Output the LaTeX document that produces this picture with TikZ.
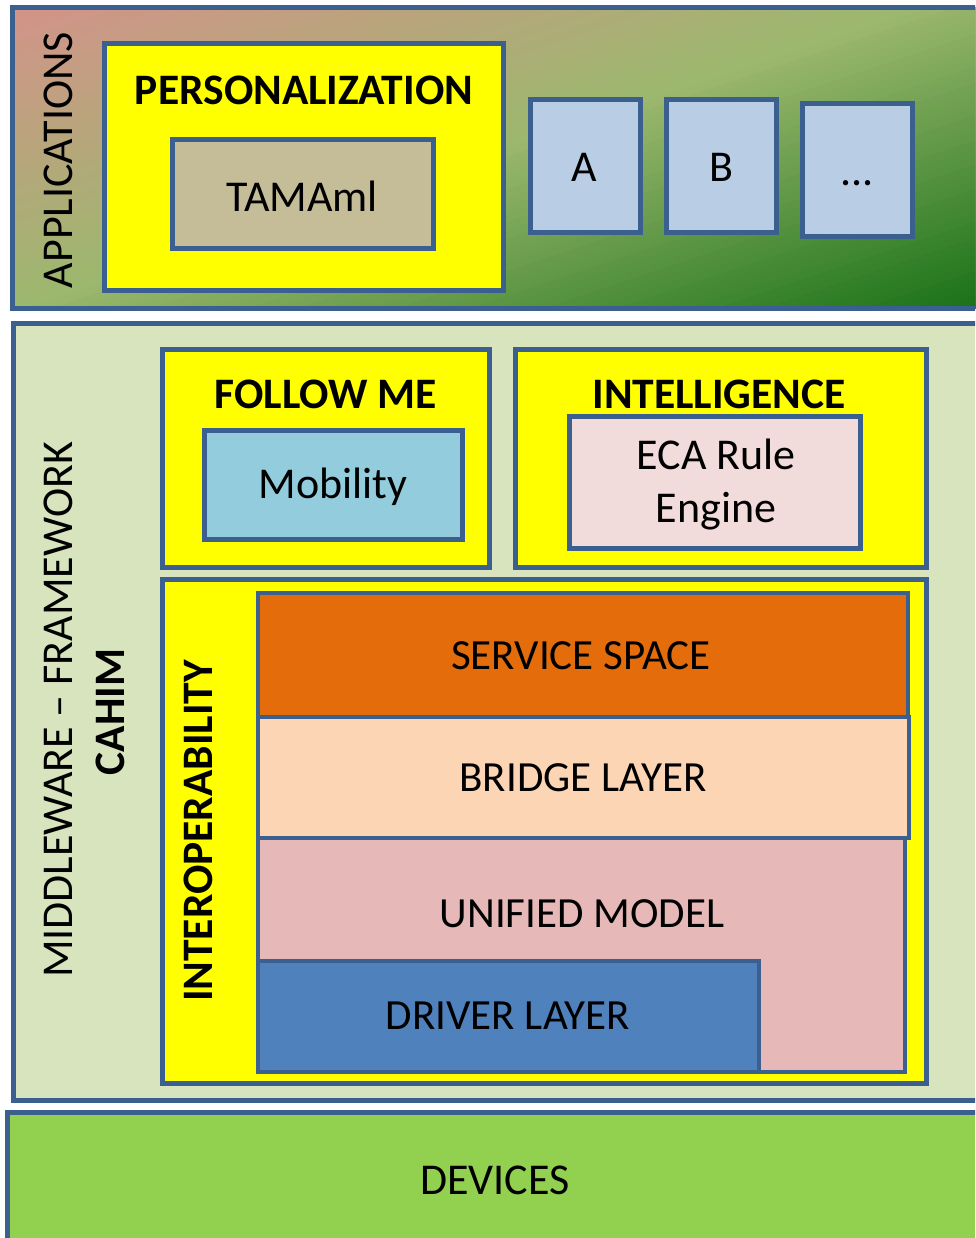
\documentclass[tikz,border=0pt]{standalone}
\usepackage{fontspec}
\setmainfont{Carlito}
\usetikzlibrary{fit}
\definecolor{edge}{RGB}{59,95,142}
\definecolor{yfill}{RGB}{255,255,0}
\definecolor{tanfill}{RGB}{196,189,151}
\definecolor{appfill}{RGB}{185,205,229}
\definecolor{midfill}{RGB}{215,228,189}
\definecolor{mobfill}{RGB}{147,205,221}
\definecolor{ecafill}{RGB}{242,220,219}
\definecolor{svcfill}{RGB}{228,108,10}
\definecolor{brgfill}{RGB}{252,213,181}
\definecolor{unifill}{RGB}{230,185,184}
\definecolor{drvfill}{RGB}{79,129,189}
\definecolor{devfill}{RGB}{146,208,80}
\definecolor{gradA}{RGB}{216,144,140}
\definecolor{gradB}{RGB}{156,184,110}
\definecolor{gradC}{RGB}{22,112,22}
\tikzset{
  box/.style={draw=edge, line width=5pt, inner sep=0pt, rectangle},
  big/.style={font=\fontsize{44}{53}\selectfont, text=black, inner sep=0pt},
  mid/.style={font=\fontsize{43}{52}\selectfont, text=black, inner sep=0pt},
  bigb/.style={font=\fontsize{43.5}{52}\selectfont\bfseries, text=black, inner sep=0pt},
}
\begin{document}
\begin{tikzpicture}[x=1pt, y=-1pt]
\useasboundingbox (0,0) rectangle (975,1238);
\fill[white] (0,0) rectangle (975,1238);
\clip (0,0) rectangle (975,1238);

% applications layer: diagonal gradient built from overlapping bands
\begin{scope}
  \clip (12,8) rectangle (995,308);
  \begin{scope}[shift={(12,8)}, xscale=983, yscale=300]
    \foreach \i in {0,...,79} {
      \pgfmathsetmacro\s{\i/40}
      \ifnum\i<40
        \pgfmathsetmacro\p{100*(1-\s)}
        \colorlet{bandc}{gradA!\p!gradB}
      \else
        \pgfmathsetmacro\p{100*(2-\s)}
        \colorlet{bandc}{gradB!\p!gradC}
      \fi
      \fill[bandc] (\s,-0.1) -- (3,-0.1) -- (3,1.1) -- (\s-1.1,1.1) -- (\s-1.1,1.1) -- cycle;
    }
  \end{scope}
\end{scope}
\node[box, fit={(12,8) (995,308)}] (apps) {};
\node[big, rotate=90] (appst) at (58,160) {APPLICATIONS};
\node[box, fill=yfill, fit={(104,44) (503,291)}] (pers) {};
\node[bigb] (perst) at (304,90) {PERSONALIZATION};
\node[box, fill=tanfill, fit={(172,140) (433,249)}] (tama) {};
\node[big] (tamat) at (302,196) {TAMAml};
\node[box, fill=appfill, fit={(530,100) (640,233)}] (appa) {};
\node[big, anchor=base] (appat) at (584,182) {A};
\node[box, fill=appfill, fit={(666,100) (776,233)}] (appb) {};
\node[big, anchor=base] (appbt) at (721,182) {B};
\node[box, fill=appfill, fit={(802,104) (912,237)}] (appc) {};
\node[big, anchor=base] (appct) at (857,186) {...};

% middleware layer
\node[box, fill=midfill, fit={(13,323) (995,1100)}] (mid) {};
\node[big, rotate=90] (midt) at (58,710) {MIDDLEWARE -- FRAMEWORK};
\node[bigb, rotate=90] (cahim) at (110,712) {CAHIM};

\node[box, fill=yfill, fit={(162,349) (489,567)}] (follow) {};
\node[bigb] (followt) at (326,394) {FOLLOW ME};
\node[box, fill=mobfill, fit={(204,430) (462,539)}] (mob) {};
\node[big] (mobt) at (333,487) {Mobility};

\node[box, fill=yfill, fit={(515,349) (926,567)}] (intel) {};
\node[bigb] (intelt) at (719,394) {INTELLIGENCE};
\node[box, fill=ecafill, fit={(569,416) (860,548)}] (eca) {};
\node[big, align=center] (ecat) at (716,485) {ECA Rule\\Engine};

\node[box, fill=yfill, fit={(162,579) (926,1083)}] (interop) {};
\node[bigb, rotate=90] (interopt) at (198,831) {INTEROPERABILITY};

\node[box, line width=4.5pt, fill=svcfill, fit={(258,593) (908,717)}] (svc) {};
\node[mid] (svct) at (581,656) {SERVICE SPACE};
\node[box, line width=4.5pt, fill=brgfill, fit={(258,717) (909,838)}] (brg) {};
\node[mid] (brgt) at (583,778) {BRIDGE LAYER};
\node[box, line width=4.5pt, fill=unifill, fit={(258,838) (905,1072)}] (uni) {};
\node[mid] (unit) at (582,914) {UNIFIED MODEL};
\node[box, line width=4.5pt, fill=drvfill, fit={(258,961) (759,1072)}] (drv) {};
\node[mid] (drvt) at (508,1016) {DRIVER LAYER};

% devices layer
\node[box, fill=devfill, fit={(7,1112) (995,1260)}] (dev) {};
\node[big] (devt) at (495,1180) {DEVICES};
\end{tikzpicture}
\end{document}
